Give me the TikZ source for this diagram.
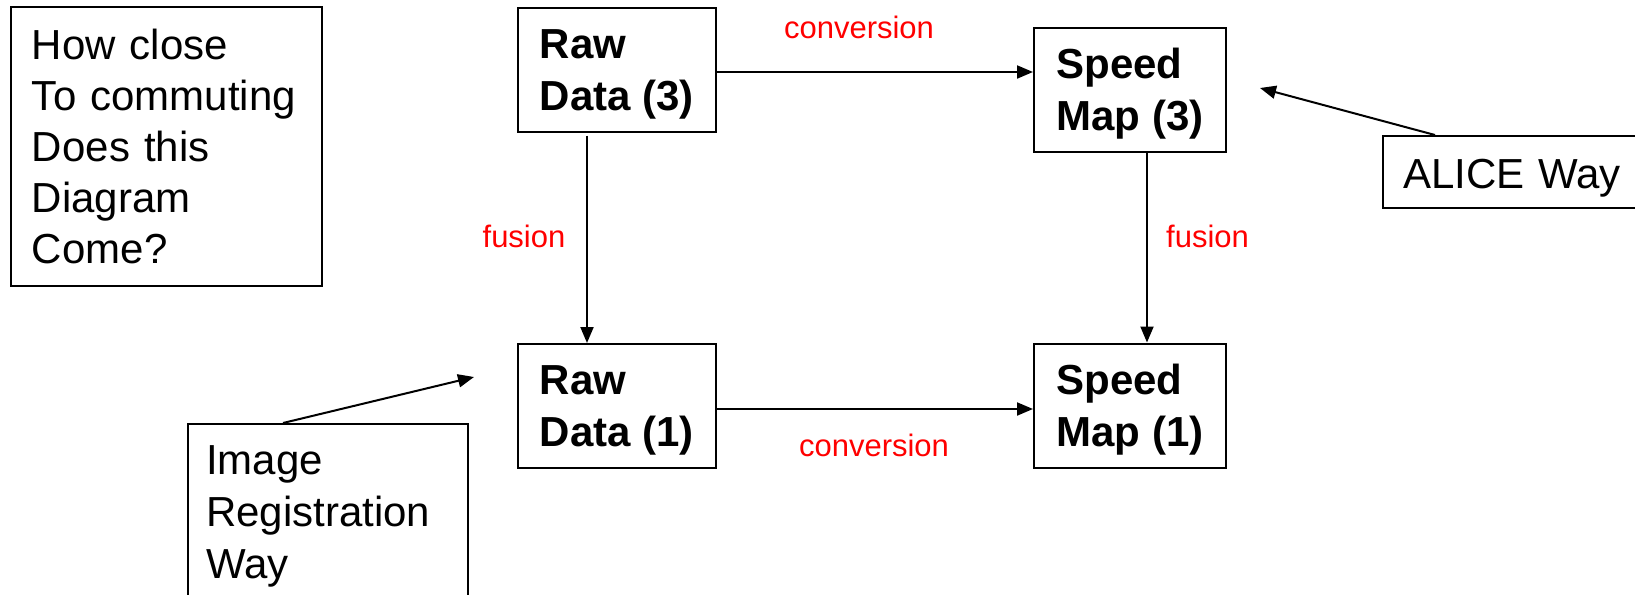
\documentclass[tikz,border=0pt]{standalone}
\usepackage{fontspec}
\setmainfont{Liberation Sans}
\usetikzlibrary{arrows.meta,positioning}

\begin{document}
\begin{tikzpicture}[x=0.5pt,y=-0.5pt,
  box/.style={draw, line width=1pt, align=left, font=\fontsize{21pt}{26pt}\selectfont},
  stage/.style={box, font=\fontsize{21pt}{26pt}\selectfont\bfseries, minimum height=62pt, minimum width=99pt,
    text height=45pt, text depth=4.5pt},
  lbl/.style={text=red, font=\fontsize{15.5pt}{18pt}\selectfont, anchor=base},
  arr/.style={-{Triangle[length=8pt,width=6.5pt]}, line width=1pt}]
\useasboundingbox (0,0) rectangle (1635,595);
\clip (0,0) rectangle (1635,595);

%question
\node[box, font=\fontsize{21pt}{25.5pt}\selectfont, minimum height=139.5pt, inner xsep=10.5pt, text width=134.5pt] (quest) at (166.5,146.5)
  {How close\\To commuting\\Does this\\Diagram\\Come?};

%raw data and speed maps
\node[stage] (rd3) at (617,69.5) {Raw\\Data (3)};
\node[stage, minimum width=96pt] (sm3) at (1130,90) {Speed\\Map (3)};
\node[stage] (rd1) at (617,406) {Raw\\Data (1)};
\node[stage, minimum width=96pt] (sm1) at (1130,405.5) {Speed\\Map (1)};

\draw[arr] ([yshift=-1.25pt]rd3.east) -- ([yshift=-1.25pt]rd3.east -| sm3.west);
\draw[arr] ([yshift=-1.5pt]rd1.east) -- ([yshift=-1.5pt]rd1.east -| sm1.west);
\draw[arr, shorten <=1.5pt] ([xshift=-15pt]rd3.south) -- ([xshift=-15pt]rd3.south |- rd1.north);
\draw[arr] ([xshift=8.5pt]sm3.south) -- ([xshift=8.5pt]sm3.south |- sm1.north);

\node[lbl] (convtop) at (859,38) {conversion};
\node[lbl] (convbot) at (874,456) {conversion};
\node[lbl] (fusl) at (524,247) {fusion};
\node[lbl] (fusr) at (1207.5,247) {fusion};

%the two ways
\node[box, anchor=west, minimum height=36pt, inner xsep=10pt, text width=140pt,
  text height=20pt, text depth=4pt] (alice) at (1382,172) {ALICE Way};
\coordinate (alicetip) at (1260,88);
\draw[arr] ([xshift=26.5pt]alice.north west) -- (alicetip);

\node[box, anchor=north west, inner xsep=9pt, inner ysep=11pt, text width=122pt] (imgreg) at (187,423)
  {Image\\Registration\\Way};
\coordinate (imgregtip) at (474,377);
\draw[arr] ([xshift=48pt]imgreg.north west) -- (imgregtip);
\end{tikzpicture}
\end{document}
